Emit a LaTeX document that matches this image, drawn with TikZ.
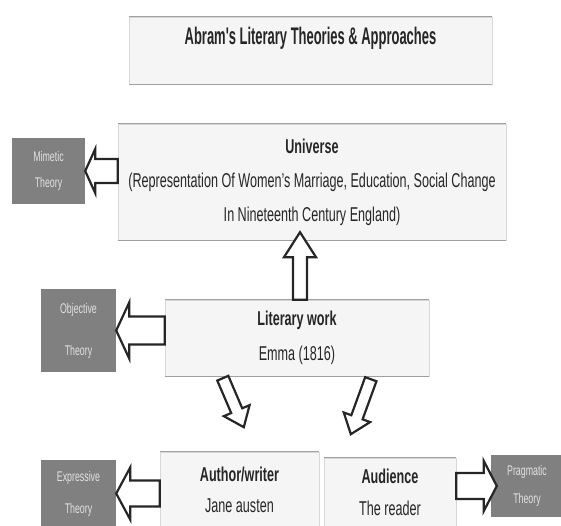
\documentclass[tikz,border=0pt]{standalone}
\usepackage{fontspec}
\setmainfont{Liberation Sans}[FakeStretch=0.63]
\newfontfamily\titlefont{Liberation Sans}[FakeStretch=0.54]
\usetikzlibrary{calc}
\definecolor{boxfill}{HTML}{F5F5F5}
\definecolor{boxedge}{HTML}{A0A0A0}
\definecolor{theoryfill}{HTML}{808080}
\definecolor{theorytext}{HTML}{E2E2E2}
\tikzset{
  pane/.style={fill=boxfill, draw=boxfill!88!black, inner sep=0pt, align=center,
    font=\fontsize{20}{24}\selectfont, text=black!85},
  theory/.style={fill=theoryfill, inner sep=0pt, align=center, text=theorytext,
    font=\fontsize{14}{16}\selectfont},
  paneedge/.style={draw=boxedge, line width=1.1pt},
  fatline/.style={draw=black!85, line width=2.2pt, fill=white, line join=miter},
}
\newcommand\fatarrow[5]{%
  \draw[fatline] let \p1=(#1), \p2=(#2),
    \n1={atan2(\y2-\y1,\x2-\x1)}, \n2={veclen(\x2-\x1,\y2-\y1)}
  in [shift={(\p1)}, rotate=\n1]
    (0pt,-#3) -- ({\n2-#5},-#3) -- ({\n2-#5},-#4) -- (\n2,0pt)
    -- ({\n2-#5},#4) -- ({\n2-#5},#3) -- (0pt,#3) -- cycle;}
\begin{document}
\begin{tikzpicture}[x=1pt,y=-1pt]
\useasboundingbox (0,0) rectangle (561,525);
\fill[white] (0,0) rectangle (561,525);

\node[pane, minimum width=363pt, minimum height=67pt, text height=17.5pt, text depth=30.5pt,
  font=\titlefont\fontsize{24}{28}\selectfont\bfseries] (title) at (310.5,50.5)
  {Abram's Literary Theories \& Approaches};

\node[pane, minimum width=388pt, minimum height=116pt] (uni) at (312,182)
  {\textbf{Universe}\\[10pt](Representation Of Women's Marriage, Education, Social Change\\[10pt]In Nineteenth Century England)};

\node[pane, minimum width=264pt, minimum height=76pt] (lit) at (297,338)
  {\textbf{Literary work}\\[11pt]Emma (1816)};

\node[pane, minimum width=159pt, minimum height=75pt] (auth) at (239.5,489.5)
  {\textbf{Author/writer}\\[7pt]Jane austen};

\node[pane, minimum width=132pt, minimum height=69pt] (aud) at (390,492.5)
  {\textbf{Audience}\\[8pt]The reader};

\node[theory, minimum width=73pt, minimum height=66pt] (mim) at (48.5,171)
  {Mimetic\\[10pt]Theory};
\node[theory, minimum width=75pt, minimum height=83pt] (obj) at (78.5,330.5)
  {Objective\\[26pt]Theory};
\node[theory, minimum width=75pt, minimum height=67pt] (expr) at (78.5,493.5)
  {Expressive\\[16pt]Theory};
\node[theory, minimum width=72pt, minimum height=62pt] (prag) at (527,486)
  {Pragmatic\\[12pt]Theory};

\foreach \n in {title,uni,lit,auth,aud}{
  \draw[paneedge] (\n.north west) -- (\n.north east) (\n.south west) -- (\n.south east);
}

% connector end points
\coordinate (mA) at (uni.west |- mim.east);
\coordinate (oA) at (lit.west |- obj.east);
\coordinate (eA) at (auth.west |- expr.east);
\coordinate (pA) at (aud.east |- prag.west);
\coordinate (pT) at ($(prag.west)+(6,0)$);
\coordinate (uB) at ($(lit.north)+(3,0)$);
\coordinate (uT) at ($(uB |- uni.south)+(0,-8)$);
\coordinate (d1a) at ($(lit.south west)+(58,2)$);
\coordinate (d1b) at ($(lit.south west)+(79,51)$);
\coordinate (d2a) at ($(lit.south west)+(206,3)$);
\coordinate (d2b) at ($(lit.south west)+(186,58)$);

\fatarrow{mA}{mim.east}{12pt}{22pt}{10pt}
\fatarrow{oA}{obj.east}{14pt}{28pt}{13pt}
\fatarrow{eA}{expr.east}{13pt}{26pt}{14pt}
\fatarrow{pA}{pT}{13pt}{25pt}{13pt}
\fatarrow{uB}{uT}{7pt}{16pt}{25pt}
\fatarrow{d1a}{d1b}{6pt}{14pt}{18pt}
\fatarrow{d2a}{d2b}{6pt}{14pt}{18pt}
\end{tikzpicture}
\end{document}
